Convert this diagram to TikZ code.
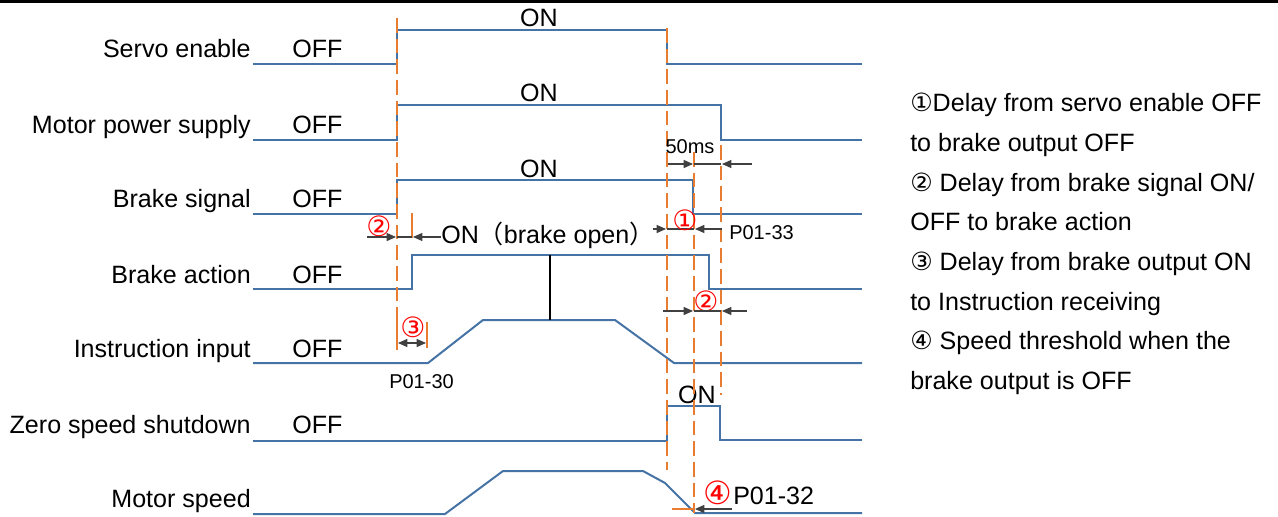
\documentclass[tikz,border=0pt]{standalone}
\usepackage{fontspec}
\setmainfont{Liberation Sans}
\newfontfamily\circfont{DejaVu Sans}
\newfontfamily\cjkfont{Noto Sans CJK SC}
\usepackage{xcolor}
\usetikzlibrary{arrows.meta}

\definecolor{sigblue}{RGB}{70,115,165}
\definecolor{guideorange}{RGB}{232,125,50}
\definecolor{dimgray}{RGB}{64,64,64}

\begin{document}
\begin{tikzpicture}[x=0.75pt,y=-0.75pt,
  sig/.style={draw=sigblue,line width=1.5pt,line join=miter},
  guide/.style={draw=guideorange,line width=1.1pt,dash pattern=on 11pt off 4.5pt},
  tick/.style={draw=guideorange,line width=1.1pt},
  dimline/.style={draw=dimgray,line width=1pt},
  dim/.style={dimline,-{Triangle[length=7pt,width=6pt]}},
  lbl/.style={font=\fontsize{18.8}{21}\selectfont,inner sep=0pt},
  small/.style={font=\fontsize{15}{17}\selectfont,inner sep=0pt},
  num/.style={text=red,font=\circfont\fontsize{21}{23}\selectfont,inner sep=0pt}]
\useasboundingbox (0,0) rectangle (1278,517);
\fill[black] (0,0) rectangle (1278,3);

\node[lbl,anchor=base east] (servo) at (251,58) {Servo enable};
\node[lbl,anchor=base east] (power) at (251,133) {Motor power supply};
\node[lbl,anchor=base east] (brakesig) at (251,207) {Brake signal};
\node[lbl,anchor=base east] (brakeact) at (251,283) {Brake action};
\node[lbl,anchor=base east] (instr) at (251,357) {Instruction input};
\node[lbl,anchor=base east] (zero) at (251,433) {Zero speed shutdown};
\node[lbl,anchor=base east] (speed) at (251,507) {Motor speed};

\node[lbl,anchor=base west] (servooff) at (292,58) {OFF};
\node[lbl,anchor=base west] (poweroff) at (292,133) {OFF};
\node[lbl,anchor=base west] (brakesigoff) at (292,207) {OFF};
\node[lbl,anchor=base west] (brakeactoff) at (292,283) {OFF};
\node[lbl,anchor=base west] (instroff) at (292,357) {OFF};
\node[lbl,anchor=base west] (zerooff) at (292,433) {OFF};

\node[lbl,anchor=base] (servoon) at (539,27) {ON};
\node[lbl,anchor=base] (poweron) at (539,102) {ON};
\node[lbl,anchor=base] (brakesigon) at (539,177) {ON};
\node[lbl,anchor=base] (zeroon) at (697,403) {ON};

\draw[sig] (253,64) -| (397,30) -| (667,64) -- (862,64);
\draw[sig] (253,140) -| (397,105) -| (721,140) -- (862,140);
\draw[sig] (253,214) -| (397,180) -| (693,214) -- (862,214);
\draw[sig] (253,289) -| (412,255) -| (709,289) -- (862,289);
\draw[sig] (253,363) -- (428,363) -- (483,320) -- (615,320) -- (674,363) -- (862,363);
\draw[sig] (253,441) -| (667,406) -| (720,440) -- (862,440);
\draw[sig] (253,514) -- (445,514) -- (503,471) -- (643,471) -- (665,483) -- (695,513) -- (862,513);
\draw[black,line width=0.8pt] (550,255) -- (550,320);

\draw[guide] (397,18) -- (397,320);
\draw[guide] (667,28) -- (667,470);
\draw[guide] (694,152) -- (694,513);
\draw[guide] (721,145) -- (721,395);
\draw[tick] (397,320) -- (397,350);
\draw[tick] (412,213) -- (412,238);
\draw[tick] (427,322) -- (427,348);
\draw[tick] (672,509) -- (694,509);

\node[small,anchor=base] (fifty) at (690,153) {50ms};
\draw[dim] (668,164) -- (693,164);
\draw[dimline] (694,164) -- (721,164);
\draw[dim] (752,164) -- (722,164);

\node[num] (numtwoa) at (379,226) {②};
\draw[dim] (367,237) -- (396,237);
\draw[dimline] (397,237) -- (412,237);
\draw[dim] (441,237) -- (413,237);
\node[lbl,anchor=west] (open) at (441,235) {ON{\cjkfont （}brake open{\cjkfont ）}};
\draw[dim] (open.east) ++(-2,-6) -- (666,229);
\draw[dimline] (667,229) -- (694,229);
\draw[dim] (722,229) -- (695,229);
\node[num] (numone) at (685,220) {①};
\node[small,anchor=base west] (pthree) at (729,239) {P01-33};

\node[num] (numtwob) at (706,301) {②};
\draw[dim] (663,311) -- (693,311);
\draw[dimline] (694,311) -- (721,311);
\draw[dim] (747,311) -- (722,311);

\node[num] (numthree) at (413,327) {③};
\draw[dimline,{Triangle[length=7pt,width=6pt]}-{Triangle[length=7pt,width=6pt]}] (398,343) -- (426,343);
\node[small,anchor=base west] (pzero) at (389,388) {P01-30};

\node[num,font=\circfont\fontsize{24}{26}\selectfont] (numfour) at (718,493) {④};
\node[lbl,anchor=base west] (ptwo) at (733,504) {P01-32};
\draw[dim] (732,509) -- (695,509);

\node[lbl,anchor=base west] (notea) at (910,112) {{\circfont ①}Delay from servo enable OFF};
\node[lbl,anchor=base west] (noteb) at (910,151.6) {to brake output OFF};
\node[lbl,anchor=base west] (notec) at (910,191.2) {{\circfont ②} Delay from brake signal ON/};
\node[lbl,anchor=base west] (noted) at (910,230.8) {OFF to brake action};
\node[lbl,anchor=base west] (notee) at (910,270.4) {{\circfont ③} Delay from brake output ON};
\node[lbl,anchor=base west] (notef) at (910,310) {to Instruction receiving};
\node[lbl,anchor=base west] (noteg) at (910,349.6) {{\circfont ④} Speed threshold when the};
\node[lbl,anchor=base west] (noteh) at (910,389.2) {brake output is OFF};
\end{tikzpicture}
\end{document}
